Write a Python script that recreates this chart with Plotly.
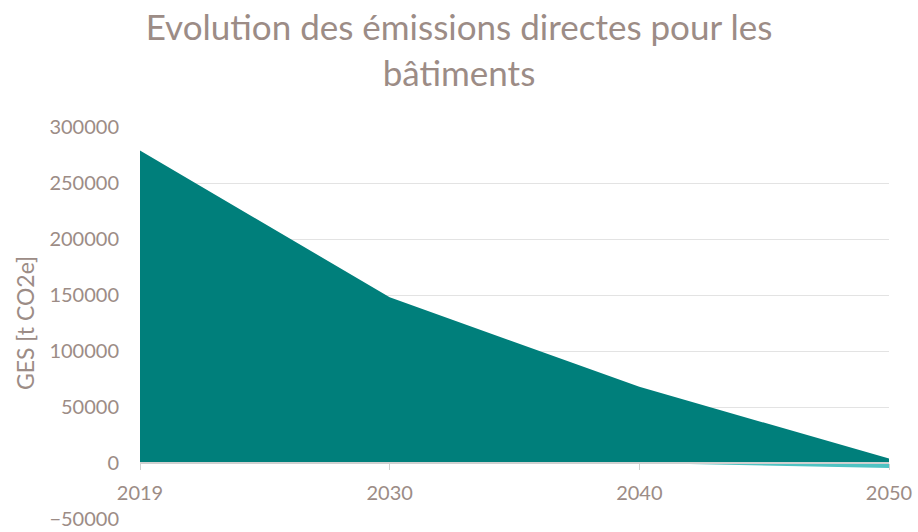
import plotly.graph_objects as go

years = ["2019", "2030", "2040", "2050"]
direct_emissions = [279000, 148000, 68000, 4000]
negative_emissions = [None, None, 0, -4500]

text_color = "#9C8C86"
font_family = "Lato, 'Open Sans', sans-serif"

fig = go.Figure()
fig.add_trace(go.Scatter(
    x=years, y=direct_emissions, mode="lines", fill="tozeroy",
    line=dict(color="#007F7B", width=0), fillcolor="#007F7B",
    name="Émissions directes", showlegend=False,
))
fig.add_trace(go.Scatter(
    x=years, y=negative_emissions, mode="lines", fill="tozeroy",
    line=dict(color="#4FC3C3", width=0), fillcolor="#4FC3C3",
    name="Séquestration", showlegend=False,
))

ymin, ymax = -50000, 300000
fig.update_layout(
    width=918, height=532,
    margin=dict(l=140, r=29, t=127, b=13),
    paper_bgcolor="white", plot_bgcolor="white",
    title=dict(
        text="Evolution des émissions directes pour les<br>bâtiments",
        x=0.5, xanchor="center", xref="container", y=1 - 40 / 532, yanchor="middle",
        font=dict(family=font_family, size=35, color=text_color),
    ),
    font=dict(family=font_family, color=text_color),
    xaxis=dict(
        type="category", range=[0, 3], automargin=False,
        anchor="free", position=(0 - ymin) / (ymax - ymin),
        showline=True, linecolor="#D0D0D0", linewidth=1.5,
        ticks="outside", ticklen=6, tickcolor="#D0D0D0",
        ticklabelstandoff=6,
        showgrid=False, tickfont=dict(size=20, color=text_color),
    ),
    yaxis=dict(
        range=[ymin, ymax], dtick=50000, tickformat="d", automargin=False,
        showgrid=True, gridcolor="#E3E3E3", gridwidth=1,
        zeroline=False, ticks="", ticklabelstandoff=20,
        tickfont=dict(size=20, color=text_color),
        title=dict(text="GES [t CO2e]", font=dict(size=23, color=text_color), standoff=8),
    ),
)

fig.write_html("out.html")
